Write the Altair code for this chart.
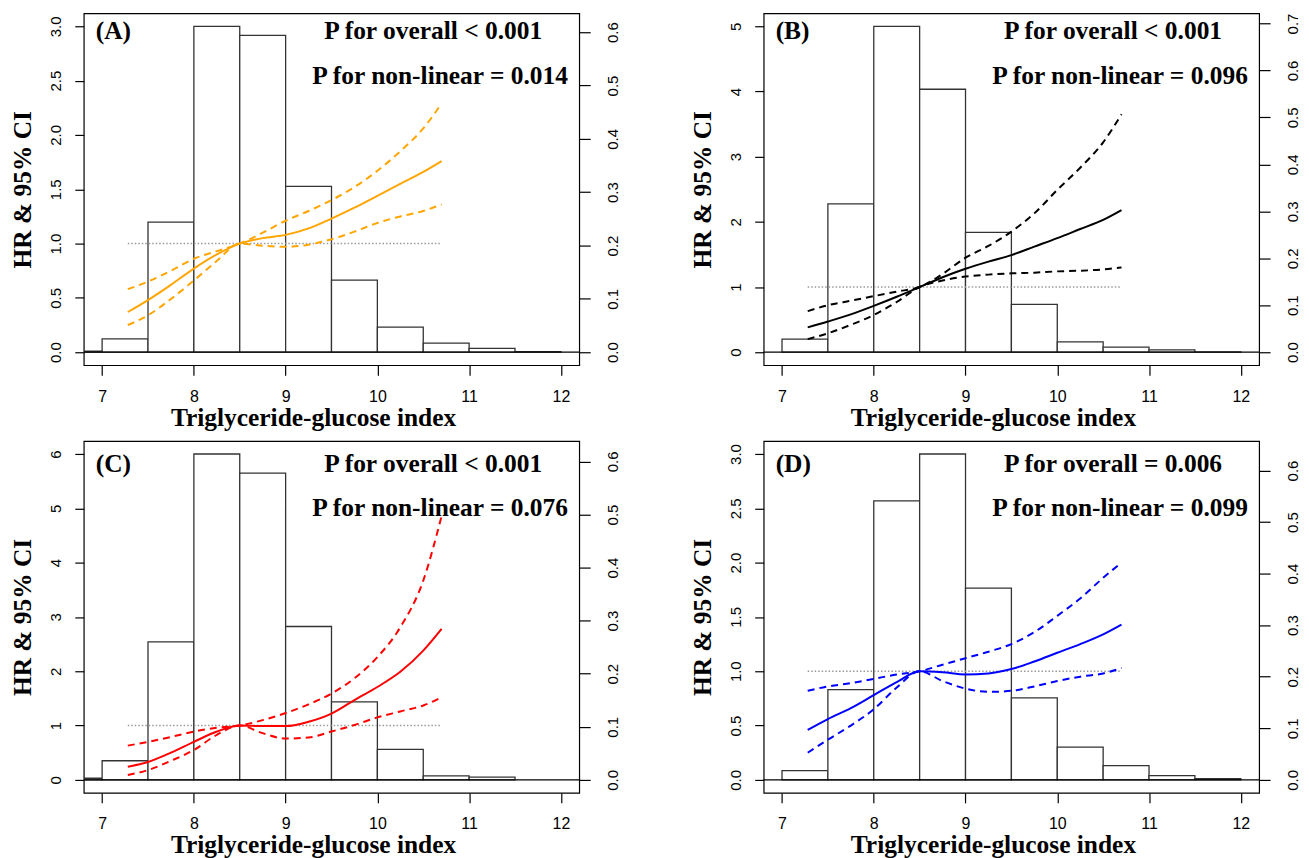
import altair as alt
import pandas as pd

# ---------------- data ----------------
X_GRID = [7.28, 7.5, 7.75, 8.0, 8.25, 8.5, 8.75, 9.0, 9.25, 9.5, 9.75, 10.0, 10.25, 10.5, 10.7]

A_HR    = [0.37, 0.48, 0.62, 0.77, 0.90, 1.00, 1.05, 1.08, 1.14, 1.23, 1.33, 1.44, 1.55, 1.66, 1.76]
A_UPPER = [0.58, 0.65, 0.75, 0.86, 0.93, 1.00, 1.10, 1.21, 1.30, 1.40, 1.52, 1.67, 1.85, 2.06, 2.29]
A_LOWER = [0.25, 0.34, 0.49, 0.66, 0.84, 1.00, 0.98, 0.97, 0.99, 1.04, 1.11, 1.19, 1.25, 1.30, 1.36]
A_BINS  = [6.5, 7.0, 7.5, 8.0, 8.5, 9.0, 9.5, 10.0, 10.5, 11.0, 11.5]
A_DENS  = [0.002, 0.025, 0.244, 0.611, 0.594, 0.311, 0.135, 0.047, 0.017, 0.007, 0.001]

B_HR    = [0.38, 0.47, 0.58, 0.71, 0.85, 1.00, 1.15, 1.28, 1.39, 1.49, 1.62, 1.75, 1.89, 2.03, 2.18]
B_UPPER = [0.63, 0.72, 0.79, 0.86, 0.93, 1.00, 1.20, 1.45, 1.63, 1.85, 2.13, 2.49, 2.83, 3.22, 3.65]
B_LOWER = [0.20, 0.29, 0.42, 0.57, 0.77, 1.00, 1.10, 1.16, 1.19, 1.21, 1.22, 1.24, 1.25, 1.27, 1.30]
B_BINS  = [7.0, 7.5, 8.0, 8.5, 9.0, 9.5, 10.0, 10.5, 11.0, 11.5]
B_DENS  = [0.0276, 0.316, 0.694, 0.560, 0.255, 0.102, 0.022, 0.0107, 0.005, 0.0007]

C_HR    = [0.24, 0.33, 0.50, 0.70, 0.89, 1.00, 0.99, 0.99, 1.07, 1.22, 1.47, 1.71, 1.99, 2.38, 2.78]
C_UPPER = [0.63, 0.70, 0.79, 0.89, 0.96, 1.00, 1.10, 1.23, 1.39, 1.59, 1.87, 2.26, 2.81, 3.67, 4.86]
C_LOWER = [0.09, 0.18, 0.35, 0.55, 0.83, 1.00, 0.86, 0.76, 0.78, 0.89, 1.01, 1.15, 1.26, 1.37, 1.52]
C_BINS  = [6.5, 7.0, 7.5, 8.0, 8.5, 9.0, 9.5, 10.0, 10.5, 11.0]
C_DENS  = [0.003, 0.036, 0.260, 0.614, 0.578, 0.289, 0.147, 0.0575, 0.0075, 0.005]

D_HR    = [0.46, 0.56, 0.66, 0.78, 0.90, 1.00, 0.99, 0.97, 0.98, 1.02, 1.09, 1.17, 1.25, 1.34, 1.43]
D_UPPER = [0.82, 0.86, 0.89, 0.93, 0.97, 1.00, 1.06, 1.12, 1.18, 1.25, 1.36, 1.51, 1.67, 1.86, 2.00]
D_LOWER = [0.25, 0.37, 0.50, 0.65, 0.85, 1.00, 0.91, 0.84, 0.81, 0.82, 0.86, 0.91, 0.95, 0.98, 1.03]
D_BINS  = [7.0, 7.5, 8.0, 8.5, 9.0, 9.5, 10.0, 10.5, 11.0, 11.5]
D_DENS  = [0.018, 0.175, 0.541, 0.632, 0.372, 0.159, 0.0636, 0.0276, 0.0084, 0.0025]

TAGS = ["(A)", "(B)", "(C)", "(D)"]
P_OVERALL = ["P for overall < 0.001", "P for overall < 0.001", "P for overall < 0.001", "P for overall = 0.006"]
P_NONLIN = ["P for non-linear = 0.014", "P for non-linear = 0.096", "P for non-linear = 0.076", "P for non-linear = 0.099"]
X_TICKS = [7, 8, 9, 10, 11, 12]
X_TITLE = "Triglyceride-glucose index"
Y_TITLE = "HR & 95% CI"

# ---------------- layout ----------------
W, H = 497, 353
SERIF = "Liberation Serif"
SANS = "Liberation Sans"


def panel(tag, p1, p2, color, bins, dens, hr, lo, up, top, lticks, lfmt, rticks, ytxt):
    xscale = alt.Scale(domain=[6.8, 12.2], nice=False, zero=False)
    lscale = alt.Scale(domain=[-0.04 * top, 1.04 * top], nice=False, zero=False)
    dmax = max(dens)
    rscale = alt.Scale(domain=[-0.04 * dmax, 1.04 * dmax], nice=False, zero=False)

    x_axis = alt.Axis(values=X_TICKS, format="d", tickSize=10, labelPadding=13,
                      labelFont=SANS, labelFontSize=16, title=X_TITLE,
                      titleFont=SERIF, titleFontWeight="bold", titleFontSize=25.5,
                      titlePadding=1, titleX=230, grid=False)
    left_axis = alt.Axis(orient="left", values=lticks, format=lfmt, tickSize=9,
                         labelAngle=270, labelAlign="center", labelBaseline="middle",
                         labelPadding=19, labelFont=SANS, labelFontSize=15,
                         title=Y_TITLE, titleFont=SERIF, titleFontWeight="bold",
                         titleFontSize=25.5, titlePadding=13, grid=False)
    right_axis = alt.Axis(orient="right", values=rticks, format=".1f", tickSize=11,
                          labelAngle=270, labelAlign="center", labelBaseline="middle",
                          labelPadding=22, labelFont=SANS, labelFontSize=15, title=None,
                          grid=False)

    hist = pd.DataFrame({"start": bins, "end": [b + 0.5 for b in bins],
                         "density": dens, "base": [0.0] * len(bins)})
    bars = alt.Chart(hist).mark_rect(fill="white", stroke="#333333", strokeWidth=1.3,
                                     clip=True).encode(
        x=alt.X("start:Q", scale=xscale, axis=x_axis),
        x2="end:Q",
        y=alt.Y("density:Q", scale=rscale, axis=right_axis),
        y2="base:Q",
    )

    n = len(X_GRID)
    curve = pd.DataFrame({"x": X_GRID * 3, "v": hr + lo + up,
                          "kind": ["HR"] * n + ["Lower"] * n + ["Upper"] * n})

    zero = alt.Chart(pd.DataFrame({"y": [0.0]})).mark_rule(color="black", strokeWidth=1.2).encode(
        x=alt.value(0), x2=alt.value(W), y=alt.Y("y:Q", scale=lscale, axis=left_axis))
    ref = alt.Chart(pd.DataFrame({"x": [X_GRID[0], X_GRID[-1]], "y": [1.0, 1.0]})).mark_line(
        color="#9a9a9a", strokeDash=[1.5, 2], strokeWidth=1.4).encode(
        x=alt.X("x:Q", scale=xscale, axis=x_axis), y=alt.Y("y:Q", scale=lscale, axis=left_axis))
    dashed = alt.Chart(curve).transform_filter("datum.kind != 'HR'").mark_line(
        color=color, strokeWidth=2, strokeDash=[7, 5], interpolate="monotone").encode(
        x=alt.X("x:Q", scale=xscale, axis=x_axis),
        y=alt.Y("v:Q", scale=lscale, axis=left_axis),
        detail="kind:N")
    solid = alt.Chart(curve).transform_filter("datum.kind == 'HR'").mark_line(
        color=color, strokeWidth=2, interpolate="monotone").encode(
        x=alt.X("x:Q", scale=xscale, axis=x_axis),
        y=alt.Y("v:Q", scale=lscale, axis=left_axis))

    txt = pd.DataFrame({"t": [tag, p1, p2]})
    t_tag = alt.Chart(txt).transform_filter(alt.datum.t == tag).mark_text(
        font=SERIF, fontWeight="bold", fontSize=25.5, align="left", baseline="alphabetic",
        color="black").encode(text="t:N", x=alt.value(12), y=alt.value(ytxt[0]))
    t_p1 = alt.Chart(txt).transform_filter(alt.datum.t == p1).mark_text(
        font=SERIF, fontWeight="bold", fontSize=25.5, align="center", baseline="alphabetic",
        color="black").encode(text="t:N", x=alt.value(350.5), y=alt.value(ytxt[0]))
    t_p2 = alt.Chart(txt).transform_filter(alt.datum.t == p2).mark_text(
        font=SERIF, fontWeight="bold", fontSize=25.5, align="center", baseline="alphabetic",
        color="black").encode(text="t:N", x=alt.value(357.5), y=alt.value(ytxt[1]))

    left_group = alt.layer(zero, ref, dashed, solid, t_tag, t_p1, t_p2)
    return alt.layer(bars, left_group).resolve_scale(y="independent").properties(width=W, height=H)


pA = panel(TAGS[0], P_OVERALL[0], P_NONLIN[0], "#FFA500", A_BINS, A_DENS, A_HR, A_LOWER, A_UPPER,
           3.0, [0, 0.5, 1, 1.5, 2, 2.5, 3], ".1f", [0, 0.1, 0.2, 0.3, 0.4, 0.5, 0.6], (26, 71))
pB = panel(TAGS[1], P_OVERALL[1], P_NONLIN[1], "#000000", B_BINS, B_DENS, B_HR, B_LOWER, B_UPPER,
           5.0, [0, 1, 2, 3, 4, 5], "d", [0, 0.1, 0.2, 0.3, 0.4, 0.5, 0.6, 0.7], (26, 71))
pC = panel(TAGS[2], P_OVERALL[2], P_NONLIN[2], "#FF0000", C_BINS, C_DENS, C_HR, C_LOWER, C_UPPER,
           6.0, [0, 1, 2, 3, 4, 5, 6], "d", [0, 0.1, 0.2, 0.3, 0.4, 0.5, 0.6], (31.5, 75.5))
pD = panel(TAGS[3], P_OVERALL[3], P_NONLIN[3], "#0000FF", D_BINS, D_DENS, D_HR, D_LOWER, D_UPPER,
           3.0, [0, 0.5, 1, 1.5, 2, 2.5, 3], ".1f", [0, 0.1, 0.2, 0.3, 0.4, 0.5, 0.6], (31.5, 75.5))

row1 = alt.hconcat(pA, pB, spacing=69)
row2 = alt.hconcat(pC, pD, spacing=69)
chart = alt.vconcat(row1, row2, spacing=8).properties(
    padding={"left": 2, "top": 3, "right": 0, "bottom": 0}
).configure_view(stroke="black", strokeWidth=1.2).configure_axis(
    grid=False, domain=False, labelColor="black", tickColor="black", titleColor="black",
    tickWidth=1.2
)

chart.save("out.html", embed_options={"renderer": "svg", "actions": False})
